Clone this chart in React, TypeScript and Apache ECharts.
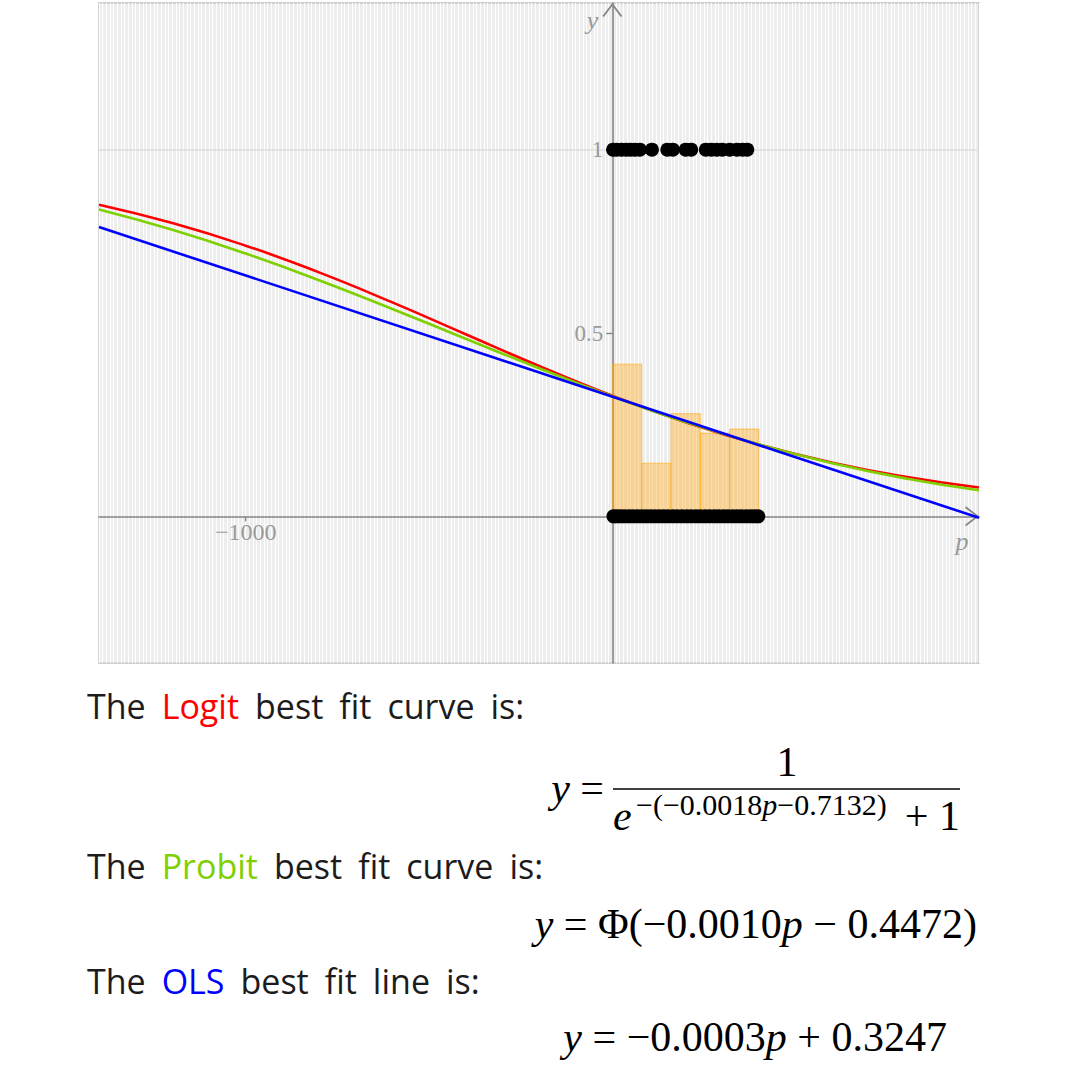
import React, { useEffect, useRef } from 'react';
import * as echarts from 'echarts';

// observations (p) with outcome 1 and outcome 0
const P_ONES = [2, 12, 25, 38, 50, 62, 75, 108, 150, 165, 200, 215, 255, 270, 285, 300, 320, 340, 355, 368];
const P_ZEROS = [3, 12, 22, 33, 45, 56, 68, 80, 92, 104, 116, 128, 140, 152, 165, 177, 190, 203, 215, 228, 240, 253, 265, 278, 290, 303, 315, 328, 340, 352, 365, 377, 388, 398];

// histogram: share of ones per bin
const BIN_EDGES = [0, 80, 160, 240, 320, 400];
const BIN_SHARE = [0.415, 0.145, 0.28, 0.227, 0.238];

// fitted curves
const CURVE_P = [-1400, -1200, -1000, -800, -600, -400, -200, 0, 200, 400, 600, 800, 1000];
const LOGIT_Y = [0.85, 0.8, 0.7382, 0.6653, 0.5834, 0.4967, 0.4102, 0.3289, 0.2567, 0.1957, 0.1464, 0.1078, 0.0785];
const PROBIT_Y = [0.8367, 0.7813, 0.7166, 0.6439, 0.5654, 0.4844, 0.4039, 0.3274, 0.2574, 0.1962, 0.1448, 0.1032, 0.0712];
const OLS_P = [-1400, 1000];
const OLS_Y = [0.789, -0.004];

const X_MIN = -1400;
const X_MAX = 1000;
const Y_MIN = -0.4;
const Y_MAX = 1.4;
const X_TICKS = [-1000];
const Y_TICKS = [0.5, 1];

const GRID = { left: 99, top: 3, width: 880, height: 660 };

const SANS = '"Open Sans", sans-serif';
const SERIF = '"Liberation Serif", "DejaVu Serif", serif';
const ARROW = 'path://M0,13 L10,0 L20,13 L18.4,14 L10,2.8 L1.6,14 Z';
const AXIS_GREY = '#858585';
const LABEL_GREY = '#9a9a9a';

const RED = '#ff0000';
const GREEN = '#7fd000';
const BLUE = '#0000ff';

function sentence(y: number, word: string, color: string, rest: string[]) {
  const tok = { fontSize: 34, fontFamily: SANS };
  return {
    type: 'text',
    x: 87,
    y,
    style: {
      text: ['The', `{c|${word}}`, ...rest].join('{s| }'),
      fill: '#1c1c1c',
      fontSize: 34,
      fontFamily: SANS,
      align: 'left',
      verticalAlign: 'middle',
      rich: {
        c: { ...tok, fill: color },
        s: { ...tok, width: 16 },
      },
    },
  };
}

function math(x: number, y: number, text: string, size: number, align = 'left') {
  const it = { fontSize: size, fontFamily: SERIF, fontStyle: 'italic', fill: '#000' };
  return {
    type: 'text',
    x,
    y,
    style: {
      text,
      fill: '#000',
      fontSize: size,
      fontFamily: SERIF,
      align,
      verticalAlign: 'middle',
      rich: { i: it },
    },
  };
}

export default function App() {
  const ref = useRef<HTMLDivElement>(null);

  useEffect(() => {
    if (!ref.current) return;
    const chart = echarts.init(ref.current, undefined, { renderer: 'svg' });

    // axes cross at the origin: shift them in from the grid edges
    const xAxisOffset = -(0 - Y_MIN) / (Y_MAX - Y_MIN) * GRID.height;
    const yAxisOffset = -(0 - X_MIN) / (X_MAX - X_MIN) * GRID.width;

    const lineSeries = (name: string, xs: number[], ys: number[], color: string) => ({
      name,
      type: 'line',
      data: xs.map((p, i) => [p, ys[i]]),
      smooth: true,
      showSymbol: false,
      lineStyle: { color, width: 2.6 },
      itemStyle: { color },
      silent: true,
    });

    const option: any = {
      animation: false,
      backgroundColor: '#ffffff',
      grid: {
        ...GRID,
        show: true,
        backgroundColor: '#ededed',
        borderColor: '#cfcfcf',
        borderWidth: 2,
      },
      xAxis: [
        {
          type: 'value',
          min: X_MIN,
          max: X_MAX,
          position: 'bottom',
          offset: xAxisOffset,
          name: 'p',
          nameLocation: 'end',
          nameGap: -17,
          nameTextStyle: {
            color: LABEL_GREY,
            fontFamily: SERIF,
            fontStyle: 'italic',
            fontSize: 26,
            align: 'center',
            verticalAlign: 'top',
            padding: [12, 0, 0, 0],
          },
          axisLine: {
            onZero: false,
            lineStyle: { color: AXIS_GREY, width: 1.6 },
            symbol: ['none', ARROW],
            symbolSize: [20, 14],
            symbolOffset: [0, -7],
          },
          axisTick: { show: true, customValues: X_TICKS, length: 5, lineStyle: { color: AXIS_GREY, width: 1.4 } },
          axisLabel: {
            customValues: X_TICKS,
            formatter: (v: number) => (v < 0 ? '\u2212' + Math.abs(v) : String(v)),
            color: LABEL_GREY,
            fontFamily: SERIF,
            fontSize: 24,
            margin: 4,
          },
          splitLine: { show: false },
        },
        {
          type: 'value',
          min: X_MIN,
          max: X_MAX,
          interval: 10,
          position: 'top',
          axisLine: { show: false, onZero: false },
          axisTick: { show: false },
          axisLabel: { show: false },
          splitLine: { show: true, lineStyle: { color: '#ffffff', width: 1.2 } },
        },
      ],
      yAxis: {
        type: 'value',
        min: Y_MIN,
        max: Y_MAX,
        position: 'left',
        offset: yAxisOffset,
        name: 'y',
        nameLocation: 'end',
        nameGap: -17,
        nameTextStyle: {
          color: LABEL_GREY,
          fontFamily: SERIF,
          fontStyle: 'italic',
          fontSize: 26,
          align: 'right',
          verticalAlign: 'middle',
          padding: [0, 14, 0, 0],
        },
        axisLine: {
          onZero: false,
          lineStyle: { color: AXIS_GREY, width: 1.6 },
          symbol: ['none', ARROW],
          symbolSize: [20, 14],
          symbolOffset: [0, -7],
        },
        axisTick: { show: true, customValues: Y_TICKS, length: 6, lineStyle: { color: AXIS_GREY, width: 1.4 } },
        axisLabel: {
          customValues: Y_TICKS,
          formatter: (v: number) => String(v),
          color: LABEL_GREY,
          fontFamily: SERIF,
          fontSize: 23,
          margin: 9,
        },
        splitLine: { show: false },
      },
      series: [
        {
          name: 'ones',
          type: 'scatter',
          data: P_ONES.map((p) => [p, 1]),
          symbolSize: 14,
          itemStyle: { color: '#000', opacity: 1 },
          silent: true,
          markLine: {
            silent: true,
            symbol: ['none', 'none'],
            label: { show: false },
            lineStyle: { color: '#dedede', width: 1.5, type: 'solid' },
            data: [{ yAxis: 1 }],
            z: 0,
          },
        },
        {
          name: 'zeros',
          type: 'scatter',
          data: P_ZEROS.map((p) => [p, 0]),
          symbolSize: 14,
          itemStyle: { color: '#000', opacity: 1 },
          silent: true,
        },
        {
          name: 'share',
          type: 'custom',
          data: BIN_SHARE.map((v, i) => [BIN_EDGES[i], BIN_EDGES[i + 1], v]),
          encode: { x: [0, 1], y: 2 },
          silent: true,
          renderItem: (_params: any, api: any) => {
            const a = api.coord([api.value(0), api.value(2)]);
            const b = api.coord([api.value(1), 0]);
            return {
              type: 'rect',
              shape: { x: a[0], y: a[1], width: b[0] - a[0], height: b[1] - a[1] },
              style: { fill: 'rgba(255,172,30,0.42)', stroke: 'rgba(255,165,0,0.55)', lineWidth: 1 },
            };
          },
        },
        lineSeries('Logit', CURVE_P, LOGIT_Y, RED),
        lineSeries('Probit', CURVE_P, PROBIT_Y, GREEN),
        lineSeries('OLS', OLS_P, OLS_Y, BLUE),
      ],
      graphic: [
        sentence(706, 'Logit', RED, ['best', 'fit', 'curve', 'is:']),
        math(604, 788, '{i|y} =', 42, 'right'),
        math(787, 762, '1', 42, 'center'),
        { type: 'line', shape: { x1: 613, y1: 789, x2: 960, y2: 789 }, style: { stroke: '#000', lineWidth: 1.6 } },
        math(613, 816, '{i|e}', 42, 'left'),
        {
          type: 'text',
          x: 636,
          y: 804,
          style: {
            text: '\u2212(\u22120.0018{i|p}\u22120.7132)',
            fill: '#000',
            fontSize: 30,
            fontFamily: SERIF,
            align: 'left',
            verticalAlign: 'middle',
            rich: { i: { fontSize: 30, fontFamily: SERIF, fontStyle: 'italic', fill: '#000' } },
          },
        },
        math(960, 816, '+ 1', 42, 'right'),
        sentence(866, 'Probit', GREEN, ['best', 'fit', 'curve', 'is:']),
        math(977, 924, '{i|y} = \u03a6(\u22120.0010{i|p} \u2212 0.4472)', 42, 'right'),
        sentence(981, 'OLS', BLUE, ['best', 'fit', 'line', 'is:']),
        math(947, 1037, '{i|y} = \u22120.0003{i|p} + 0.3247', 42, 'right'),
      ],
    };

    chart.setOption(option);
    return () => chart.dispose();
  }, []);

  return (
    <div
      ref={ref}
      style={{ position: 'fixed', left: 0, top: 0, width: 1080, height: 1080, background: '#fff' }}
    />
  );
}
